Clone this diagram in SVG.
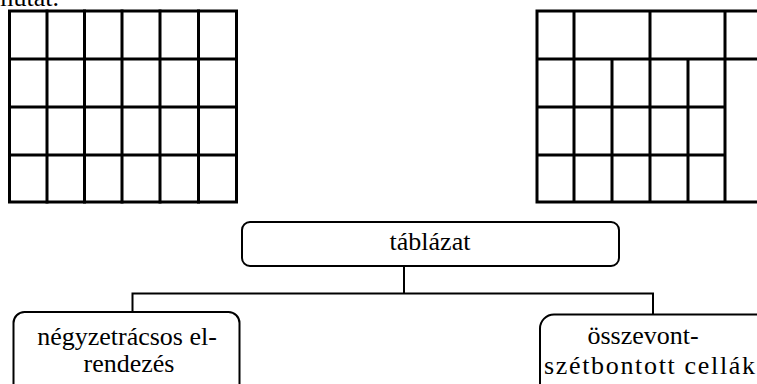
<svg xmlns="http://www.w3.org/2000/svg" width="757" height="384" viewBox="0 0 757 384">
<style>
.g{stroke:#000;stroke-width:3;fill:none;stroke-linecap:square}
.box{fill:#fff;stroke:#000;stroke-width:2}
.c{fill:none;stroke:#000;stroke-width:2}
text{font-family:"Liberation Serif","Times New Roman",serif;font-size:26px;fill:#000}
</style>
<text x="59" y="6" text-anchor="end" font-size="24">mutat.</text>
<g id="grid-left" class="g">
<rect x="9.5" y="11" width="227" height="191"/>
<path d="M47 11V202M84.5 11V202M122 11V202M160 11V202M198.5 11V202M9.5 59H236.5M9.5 107H236.5M9.5 155H236.5"/>
</g>
<g id="grid-right" class="g">
<path d="M537 11H760M537 59H760M537 107H725M537 155H725M537 202H760M537 11V202M574 11V202M612 59V202M650 11V202M688 59V202M725 11V202"/>
</g>
<g id="connectors">
<path class="c" d="M404 266V293.5"/>
<path class="c" d="M132.5 312V293.5H653V314.5"/>
</g>
<g id="node-tablazat">
<rect class="box" x="242" y="222" width="377" height="44" rx="8"/>
<text x="430" y="250" text-anchor="middle" font-size="27">táblázat</text>
</g>
<g id="node-negyzetracsos">
<rect class="box" x="13.5" y="312" width="226" height="95" rx="11"/>
<text x="127" y="345" text-anchor="middle">négyzetrácsos el-</text>
<text x="129" y="372" text-anchor="middle">rendezés</text>
</g>
<g id="node-osszevont">
<rect class="box" x="540" y="314.5" width="240" height="95" rx="14"/>
<text x="643" y="344" text-anchor="middle" font-size="28">összevont-</text>
<text x="544" y="374" font-size="28" textLength="211" lengthAdjust="spacing">szétbontott cellák</text>
</g>
</svg>
